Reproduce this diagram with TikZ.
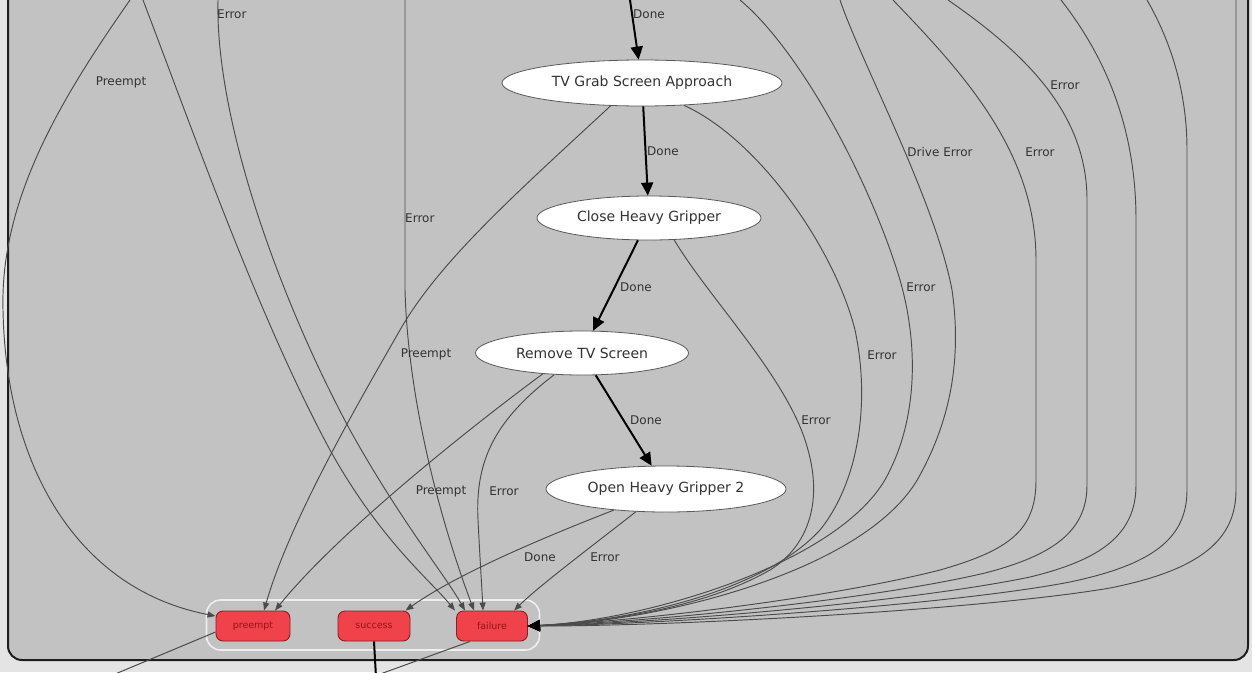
\documentclass[tikz,border=0pt]{standalone}
\usepackage{fontspec}
\setmainfont{DejaVu Sans}
\usetikzlibrary{arrows.meta,shapes.geometric}
\definecolor{canvas}{RGB}{228,228,228}
\definecolor{panel}{RGB}{194,194,194}
\definecolor{frame}{RGB}{30,30,30}
\definecolor{wirecol}{RGB}{75,75,75}
\definecolor{labelgray}{RGB}{50,50,50}
\definecolor{outred}{RGB}{240,66,74}
\definecolor{outedge}{RGB}{140,30,35}
\definecolor{outtext}{RGB}{150,20,25}
\definecolor{groupline}{RGB}{238,238,238}

\tikzset{
  state/.style={ellipse, draw=gray!70!black, line width=0.8pt, fill=white, inner sep=0pt,
    font=\fontsize{14}{16}\selectfont, text=black!80},
  outcome/.style={rectangle, rounded corners=7pt, draw=outedge, line width=0.9pt, fill=outred,
    minimum height=30pt, inner sep=0pt, font=\fontsize{9.5}{11}\selectfont, text=outtext},
  group/.style={rectangle, rounded corners=14pt, draw=groupline, line width=1.6pt, inner sep=0pt},
  wire/.style={draw=wirecol, line width=0.95pt, -{Triangle[length=8pt,width=6pt]}},
  fan/.style={draw=wirecol, line width=0.95pt, -{Triangle[length=12pt,width=11pt,color=black]}},
  done/.style={draw=black, line width=2pt, -{Triangle[length=13pt,width=12pt]}},
  elabel/.style={font=\fontsize{12}{14}\selectfont, text=labelgray, inner sep=0pt},
  exitline/.style={draw=wirecol, line width=1pt},
}

\begin{document}
\begin{tikzpicture}[x=1pt,y=-1pt]
\useasboundingbox (0,0) rectangle (1252,672);
\fill[canvas] (0,0) rectangle (1252,672);
\fill[panel, rounded corners=14pt] (8,-30) rectangle (1248,660);
\draw[frame, line width=2pt, rounded corners=14pt] (8,-30) rectangle (1248,660);

% states of the container
\node[state, minimum width=280pt, minimum height=46pt] (tvg) at (642,83) {TV Grab Screen Approach};
\node[state, minimum width=224pt, minimum height=44pt] (close) at (649,218) {Close Heavy Gripper};
\node[state, minimum width=213pt, minimum height=44pt] (remove) at (582,353) {Remove TV Screen};
\node[state, minimum width=240pt, minimum height=46pt] (open) at (666,489) {Open Heavy Gripper 2};

% container outcomes
\node[group, minimum width=333pt, minimum height=50pt] (outcomes) at (373,625) {};
\node[outcome, minimum width=74pt] (preempt) at (253,626) {preempt};
\node[outcome, minimum width=72pt] (success) at (374,626) {success};
\node[outcome, minimum width=71pt] (failure) at (492,626) {failure};

% transitions entering from states above
\coordinate (inPre) at (130,0);
\coordinate (inFailA) at (143,0);
\coordinate (inErrA) at (218,0);
\coordinate (inErrB) at (405,0);
\coordinate (inDone) at (630,0);
\coordinate (inB) at (740,0);
\coordinate (inC) at (840,0);
\coordinate (inD) at (893,0);
\coordinate (inE) at (948,0);
\coordinate (inF) at (1061,0);
\coordinate (inG) at (1147,0);
\coordinate (inH) at (1236,0);
\coordinate (outPre) at (108,677);
\coordinate (outSuc) at (376,677);
\coordinate (outFail) at (372,677);

% main sequence
\draw[done] (inDone) -- (tvg);
\draw[done] (tvg) -- (close);
\draw[done] (close) -- (remove);
\draw[done] (remove) -- (open);

% transitions into preempt / success / failure
\draw[wire] (inPre) .. controls (60,100) and (0,200) .. (3,310)
  .. controls (6,470) and (80,590) .. ([yshift=10pt]preempt.west);
\draw[wire] (inFailA) .. controls (200,150) and (260,320) .. (330,450)
  .. controls (380,540) and (430,580) .. ([xshift=-37pt]failure.north);
\draw[wire] (inErrA) .. controls (215,120) and (280,300) .. (350,430)
  .. controls (400,520) and (445,575) .. ([xshift=-27pt]failure.north);
\draw[wire] (inErrB) -- (405,290) .. controls (408,400) and (440,520) .. ([xshift=-18pt]failure.north);
\draw[wire] (tvg.216) .. controls (520,190) and (440,260) .. (400,330)
  .. controls (360,400) and (290,520) .. ([xshift=11pt]preempt.north);
\draw[wire] (remove.208) .. controls (480,420) and (340,530) .. ([xshift=22pt]preempt.north);
\draw[wire] (remove.218) .. controls (495,420) and (475,460) .. (478,520)
  .. controls (480,560) and (482,590) .. ([xshift=-9pt]failure.north);
\draw[wire] (open.202) .. controls (550,535) and (460,572) .. ([xshift=-5pt]success.north east);
\draw[wire] (open.217) .. controls (600,540) and (540,585) .. ([xshift=22pt]failure.north);

% error transitions gathered on the right of failure
\draw[fan] (close.-41) .. controls (710,300) and (790,380) .. (808,450)
  .. controls (822,500) and (810,545) .. (770,570)
  .. controls (700,610) and (600,622) .. (failure.east);
\draw[fan] (tvg.-28) .. controls (760,140) and (835,250) .. (855,330)
  .. controls (870,400) and (860,480) .. (820,530)
  .. controls (760,595) and (620,622) .. (failure.east);
\draw[fan] (inB) .. controls (800,50) and (870,180) .. (900,280)
  .. controls (920,350) and (915,420) .. (890,470)
  .. controls (850,560) and (650,620) .. (failure.east);
\draw[fan] (inC) .. controls (860,60) and (935,200) .. (952,290)
  .. controls (962,360) and (950,420) .. (920,475)
  .. controls (870,570) and (660,622) .. (failure.east);
\draw[fan] (inD) .. controls (960,70) and (1036,150) .. (1036,260) -- (1036,480)
  .. controls (1036,530) and (1010,550) .. (940,570)
  .. controls (830,598) and (640,621) .. (failure.east);
\draw[fan] (inE) .. controls (1020,50) and (1087,110) .. (1087,200) -- (1087,485)
  .. controls (1087,530) and (1055,555) .. (985,573)
  .. controls (870,600) and (650,622) .. (failure.east);
\draw[fan] (inF) .. controls (1100,50) and (1136,120) .. (1136,220) -- (1136,485)
  .. controls (1136,535) and (1100,560) .. (1030,577)
  .. controls (910,602) and (660,623) .. (failure.east);
\draw[fan] (inG) .. controls (1170,40) and (1187,90) .. (1187,150) -- (1187,490)
  .. controls (1187,540) and (1150,565) .. (1070,582)
  .. controls (950,605) and (670,624) .. (failure.east);
\draw[fan] (inH) -- (1236,490)
  .. controls (1236,540) and (1200,570) .. (1110,588)
  .. controls (980,610) and (680,626) .. (failure.east);

% outcomes leaving the container
\draw[exitline] ([yshift=-6pt]preempt.west) -- (outPre);
\draw[black, line width=2pt] (success.south) -- (outSuc);
\draw[exitline] ([xshift=-22pt]failure.south) -- (outFail);

% transition labels
\node[elabel] (lbPreA) at (121,82) {Preempt};
\node[elabel, anchor=west] (lbErrA) at (217,14) {Error};
\node[elabel, anchor=west] (lbErrB) at (405,218) {Error};
\node[elabel, anchor=west] (lbDone0) at (633,14) {Done};
\node[elabel, anchor=west] (lbDone1) at (647,151) {Done};
\node[elabel, anchor=west] (lbDone2) at (620,287) {Done};
\node[elabel, anchor=west] (lbDone3) at (630,420) {Done};
\node[elabel] (lbPreB) at (426,354) {Preempt};
\node[elabel] (lbPreC) at (441,491) {Preempt};
\node[elabel] (lbErrC) at (504,491) {Error};
\node[elabel] (lbDone4) at (540,557) {Done};
\node[elabel] (lbErrD) at (605,557) {Error};
\node[elabel] (lbErrE) at (816,420) {Error};
\node[elabel] (lbErrF) at (882,355) {Error};
\node[elabel] (lbErrG) at (921,287) {Error};
\node[elabel] (lbDrive) at (940,152) {Drive Error};
\node[elabel] (lbErrH) at (1040,152) {Error};
\node[elabel] (lbErrI) at (1065,85) {Error};
\end{tikzpicture}
\end{document}
